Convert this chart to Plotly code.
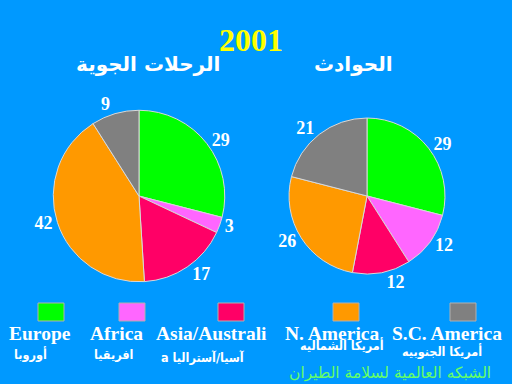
import plotly.graph_objects as go

regions_en = ["Europe", "Africa", "Asia/Australi", "N. America", "S.C. America"]
regions_ar = ["أوروبا", "افريقيا", "a آسيا/آستراليا", "أمريكا الشماليه", "أمريكا الجنوبيه"]
flights = [29, 3, 17, 42, 9]
accidents = [29, 12, 12, 26, 21]
colors = ["#00FF00", "#FF66FF", "#FF0066", "#FF9900", "#808080"]
title_text = "2001"
sub_flights = "الرحلات الجوية"
sub_accidents = "الحوادث"
footer = "الشبكه العالمية لسلامة الطيران"

BG = "#0099FF"
serif = "Liberation Serif, Times New Roman, serif"
arab = "DejaVu Sans, Noto Sans, sans-serif"
arab_c = "DejaVu Sans Condensed, DejaVu Sans, sans-serif"

fig = go.Figure()
common = dict(
    sort=False, direction="clockwise", rotation=0,
    marker=dict(colors=colors, line=dict(color="#D8D8D8", width=1)),
    textposition="outside", texttemplate="<b>%{value}</b>",
    textfont=dict(family=serif, size=18, color="white"),
    showlegend=False, hoverinfo="label+value",
)
fig.add_trace(go.Pie(labels=regions_en, values=flights,
                     domain=dict(x=[0.104, 0.439], y=[0.266, 0.713]), **common))
fig.add_trace(go.Pie(labels=regions_en, values=accidents,
                     domain=dict(x=[0.5645, 0.8691], y=[0.2865, 0.6927]), **common))

ann = [
    dict(text=f"<b>{title_text}</b>", x=0.49, y=1 - 40 / 384, font=dict(family=serif, size=32, color="#FFFF00")),
    dict(text=f"<b>{sub_flights}</b>", x=148 / 512, y=1 - 64 / 384, font=dict(family=arab, size=20, color="white")),
    dict(text=f"<b>{sub_accidents}</b>", x=353 / 512, y=1 - 64 / 384, font=dict(family=arab, size=20, color="white")),
    dict(text=footer, x=390 / 512, y=1 - 373 / 384, font=dict(family=arab, size=15.5, color="#66FF66")),
]
shapes = []
sq_x = [38, 119, 218, 333, 450]
en_x = [40, 116, 211, 332, 447]
ar_x = [30, 113, 203, 342, 442]
ar_y = [354, 354, 357, 345, 351]
for i, c in enumerate(colors):
    shapes.append(dict(type="rect", xref="paper", yref="paper",
                       x0=sq_x[i] / 512, x1=(sq_x[i] + 26) / 512,
                       y0=1 - 321 / 384, y1=1 - 303 / 384,
                       fillcolor=c, line=dict(color="#B0B0B0", width=1)))
    ann.append(dict(text=f"<b>{regions_en[i]}</b>", x=en_x[i] / 512, y=1 - 333 / 384,
                    font=dict(family=serif, size=19.5, color="white")))
    ann.append(dict(text=f"<b>{regions_ar[i]}</b>", x=ar_x[i] / 512, y=1 - ar_y[i] / 384,
                    font=dict(family=arab_c, size=12.5, color="white")))
for a in ann:
    a.update(xref="paper", yref="paper", showarrow=False, xanchor="center", yanchor="middle")

fig.update_layout(
    width=512, height=384, margin=dict(l=0, r=0, t=0, b=0),
    paper_bgcolor=BG, plot_bgcolor=BG,
    annotations=ann, shapes=shapes,
)
fig.write_html("out.html", config={"displayModeBar": False},
               post_script="document.body.style.margin='0';document.body.style.overflow='hidden';")
